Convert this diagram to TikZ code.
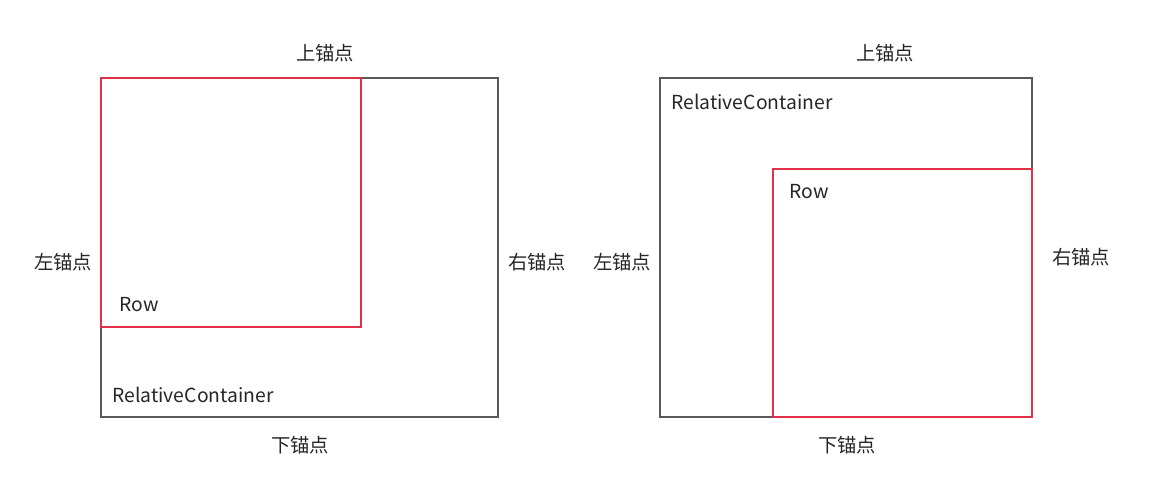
\documentclass[tikz,border=0pt]{standalone}
\usepackage{fontspec}
\setmainfont{Noto Sans CJK SC}
\definecolor{boxgray}{HTML}{595959}
\definecolor{boxred}{HTML}{E0304A}
\begin{document}
\begin{tikzpicture}[x=0.02cm,y=-0.02cm,
  lbl/.style={font=\fontsize{11}{13}\selectfont,text=black!85,inner sep=0pt},
  outer/.style={draw=boxgray,line width=1.4pt},
  inner/.style={draw=boxred,line width=1.4pt}]
\useasboundingbox (0,0) rectangle (1149,489);
% left
\draw[outer] (101,78) rectangle (498,417);
\draw[inner] (101,78) rectangle (361,327);
\node[lbl] (lt) at (325,53) {上锚点};
\node[lbl] (ll) at (63,262) {左锚点};
\node[lbl] (lr) at (537,262) {右锚点};
\node[lbl] (lb) at (300,445) {下锚点};
\node[lbl] (lrow) at (139,305) {Row};
\node[lbl] (lrc) at (193,395) {RelativeContainer};
% right
\draw[outer] (660,78) rectangle (1032,417);
\draw[inner] (773,169) rectangle (1032,417);
\node[lbl] (rt) at (885,53) {上锚点};
\node[lbl] (rl) at (622,262) {左锚点};
\node[lbl] (rr) at (1081,257) {右锚点};
\node[lbl] (rb) at (847,445) {下锚点};
\node[lbl] (rrc) at (752,102) {RelativeContainer};
\node[lbl] (rrow) at (809,192) {Row};
\end{tikzpicture}
\end{document}
